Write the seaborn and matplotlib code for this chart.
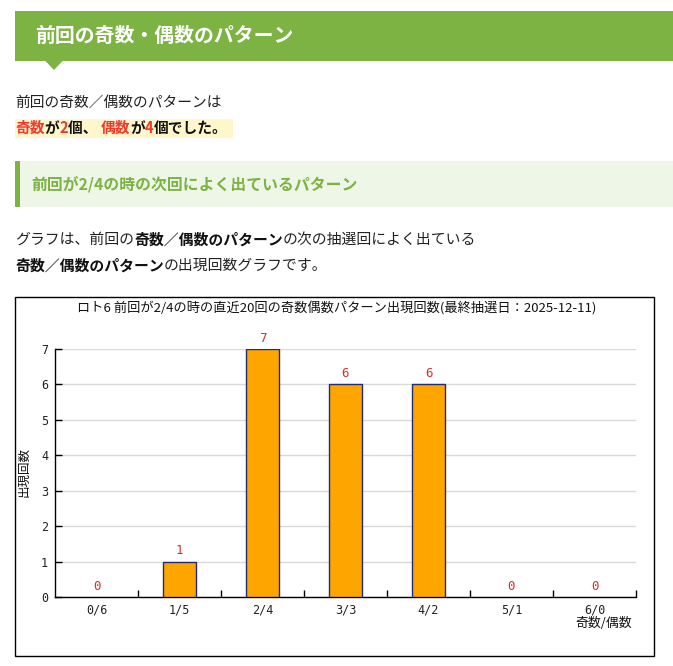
import matplotlib
matplotlib.use("Agg")
import matplotlib.pyplot as plt
import seaborn as sns
import pandas as pd
from matplotlib.patches import Rectangle, Polygon

# ---- data ----
categories = ["0/6", "1/5", "2/4", "3/3", "4/2", "5/1", "6/0"]
counts = [0, 1, 7, 6, 6, 0, 0]
y_ticks = [0, 1, 2, 3, 4, 5, 6, 7]
header_title = "前回の奇数・偶数のパターン"
sub_title = "前回が2/4の時の次回によく出ているパターン"
chart_title = "ロト6 前回が2/4の時の直近20回の奇数偶数パターン出現回数(最終抽選日：2025-12-11)"
y_label = "出現回数"
x_label = "奇数/偶数"

GREEN = "#7cb342"
RED = "#f0382c"

W, H = 673, 666
sns.set_style("white")
plt.rcParams["font.family"] = ["Noto Sans CJK JP", "DejaVu Sans"]

fig = plt.figure(figsize=(W / 100, H / 100), dpi=100)
fig.patch.set_facecolor("white")
renderer = fig.canvas.get_renderer()


def fx(x):
    return x / W


def fy(y):
    return 1 - y / H


def rect(x0, y0, x1, y1, **kw):
    fig.patches.append(Rectangle((fx(x0), fy(y1)), fx(x1) - fx(x0), fy(y0) - fy(y1),
                                 transform=fig.transFigure, **kw))


def rich(x, y, parts, size):
    for txt, color, weight in parts:
        t = fig.text(fx(x), fy(y), txt, color=color, fontweight=weight,
                     fontsize=size, va="center", ha="left")
        x += t.get_window_extent(renderer).width
    return x


# header bar
rect(15, 11, 673, 61, fc=GREEN, lw=0)
fig.patches.append(Polygon([(fx(45), fy(60.5)), (fx(63), fy(60.5)), (fx(54), fy(70))],
                           closed=True, transform=fig.transFigure, fc=GREEN, lw=0))
fig.text(fx(35), fy(35), header_title, color="white", fontsize=14.3,
         fontweight="bold", va="center", ha="left")

# intro text
rich(15, 103, [("前回の奇数／偶数のパターンは", "#222222", "normal")], 10.6)
rect(15, 119, 233, 138, fc="#fff6cc", lw=0)
rich(15, 128, [("奇数", RED, "bold"), ("が", "#111111", "bold"), ("2", RED, "bold"),
               ("個、 ", "#111111", "bold"), ("偶数", RED, "bold"), ("が", "#111111", "bold"),
               ("4", RED, "bold"), ("個でした。", "#111111", "bold")], 10.6)

# sub heading
rect(15, 161, 673, 207, fc="#eef6e7", lw=0)
rect(15, 161, 20, 207, fc=GREEN, lw=0)
fig.text(fx(31), fy(184), sub_title, color="#7cb342", fontsize=11.4,
         fontweight="bold", va="center", ha="left")

# paragraph
rich(15, 240, [("グラフは、前回の", "#222222", "normal"), ("奇数／偶数のパターン", "#111111", "bold"),
               ("の次の抽選回によく出ている", "#222222", "normal")], 10.7)
rich(15, 266, [("奇数／偶数のパターン", "#111111", "bold"),
               ("の出現回数グラフです。", "#222222", "normal")], 10.7)

# chart frame and title
rect(15, 297, 654, 656, fill=False, ec="black", lw=1)
fig.text(fx(337), fy(309), chart_title, fontsize=9.5, ha="center", va="center", color="#111111")

# chart axes
ax = fig.add_axes([fx(55), fy(597), (636 - 55) / W, (597 - 349) / H])
df = pd.DataFrame({"pattern": categories, "count": counts})
sns.barplot(data=df, x="pattern", y="count", color="#FFA500", edgecolor="#1f2a7a",
            linewidth=1, width=0.39, saturation=1, ax=ax, zorder=3)
for p in ax.patches:
    if p.get_height() == 0:
        p.set_linewidth(0)
ax.set_xlim(-0.5, 6.5)
ax.set_ylim(0, 7)
ax.set_yticks(y_ticks)
ax.set_xticks(range(len(categories)))
ax.set_xticklabels(categories)
ax.set_xticks([i + 0.5 for i in range(len(categories))], minor=True)
ax.tick_params(axis="y", left=True, direction="in", length=5, width=1, color="black",
               labelsize=8.5, pad=5)
ax.tick_params(axis="x", which="major", bottom=True, length=0, labelsize=8.5, pad=4.5)
ax.tick_params(axis="x", which="minor", bottom=True, direction="in", length=5, width=1,
               color="black")
for lbl in ax.get_xticklabels() + ax.get_yticklabels():
    lbl.set_fontfamily("DejaVu Sans Mono")
    lbl.set_color("#222222")
for side in ["top", "right"]:
    ax.spines[side].set_visible(False)
for side in ["left", "bottom"]:
    ax.spines[side].set_color("black")
    ax.spines[side].set_linewidth(1)
ax.grid(axis="y", color="#d9d9d9", lw=1)
ax.grid(axis="x", visible=False)
ax.set_axisbelow(True)

ax.bar_label(ax.containers[0], labels=[str(v) for v in counts], padding=3,
             color="#e02a2a", fontsize=9, fontfamily="DejaVu Sans Mono")

ax.set_ylabel(y_label, fontsize=9, color="#111111")
ax.yaxis.set_label_coords(-0.053, 0.504)
ax.yaxis.label.set_va("center")
ax.set_xlabel(x_label, fontsize=9.3, color="#111111")
ax.xaxis.label.set_ha("right")
ax.xaxis.label.set_va("center")
ax.xaxis.set_label_coords(0.993, -0.108)

fig.savefig("out.png", dpi=100)
